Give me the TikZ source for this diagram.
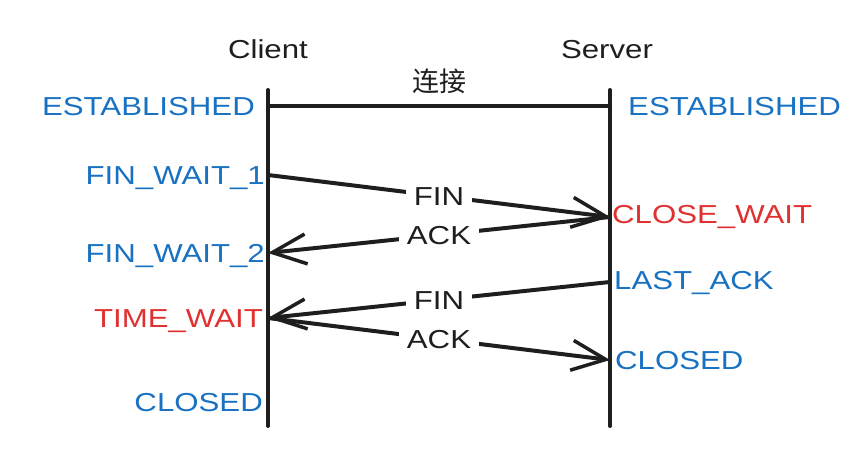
\documentclass[tikz,border=0pt]{standalone}
\usepackage{fontspec}
\setmainfont{Liberation Sans}[FakeStretch=1.2]
\newfontfamily\cjkfont{Noto Sans CJK SC}
\usetikzlibrary{positioning,arrows.meta}
\definecolor{Ink}{RGB}{30,30,30}
\definecolor{StBlue}{RGB}{25,113,194}
\definecolor{StRed}{RGB}{224,49,49}
\tikzset{
  life/.style={draw=Ink,line width=4pt,line cap=round},
  msg/.style={draw=Ink,line width=4pt,line cap=round,
    -{Straight Barb[length=34pt,width=30pt,line width=3.5pt]}},
  txt/.style={font=\fontsize{26}{30}\selectfont,text height=18.6pt,text depth=0pt,inner sep=0pt},
}
\tikzset{who/.style={txt,text=Ink}, st/.style={txt,text=StBlue}, stwait/.style={txt,text=StRed},
  pkt/.style={txt,text=Ink,fill=white,inner xsep=8pt,inner ysep=4pt},
  cjk/.style={font=\cjkfont\fontsize{27}{30}\selectfont,text=Ink,inner sep=0pt}}

\begin{document}
\begin{tikzpicture}[x=1pt,y=-1pt]
\useasboundingbox (0,0) rectangle (851,462);
\coordinate (cTop) at (268,90);
\coordinate (cBot) at (268,426);
\coordinate (sTop) at (610,90);
\coordinate (sBot) at (610,426);
\coordinate (cEst) at (268,106);
\coordinate (sEst) at (610,106);
\coordinate (c1) at (268,175);
\coordinate (s1) at (610,217);
\coordinate (c2) at (268,253);
\coordinate (s3) at (610,282);
\coordinate (c3) at (268,318);
\coordinate (s4) at (610,360);
\coordinate (cEnd) at (268,402);
\draw[life] (cTop)--(cBot);
\draw[life] (sTop)--(sBot);
\draw[life] (cEst)-- node[cjk,above=10pt] (conn) {连接} (sEst);
\draw[msg] (c1)-- node[pkt] (fin1) {FIN} (s1);
\draw[msg] (s1)-- node[pkt] (ack1) {ACK} (c2);
\draw[msg] (s3)-- node[pkt] (fin2) {FIN} (c3);
\draw[msg] (c3)-- node[pkt] (ack2) {ACK} (s4);
\node[who,above=31pt of cTop] (client) {Client};
\node[who,above=31pt of sTop,xshift=-3pt] (server) {Server};
\node[st,left=13pt of cEst] (cEstab) {ESTABLISHED};
\node[st,left=3pt of c1] (fw1) {FIN\_WAIT\_1};
\node[st,left=3pt of c2] (fw2) {FIN\_WAIT\_2};
\node[stwait,left=5pt of c3] (tw) {TIME\_WAIT};
\node[st,left=5pt of cEnd] (cClosed) {CLOSED};
\node[st,right=18pt of sEst] (sEstab) {ESTABLISHED};
\node[stwait,right=2pt of s1,yshift=3pt] (cw) {CLOSE\_WAIT};
\node[st,right=4pt of s3,yshift=2pt] (la) {LAST\_ACK};
\node[st,right=5pt of s4] (sClosed) {CLOSED};
\end{tikzpicture}
\end{document}
